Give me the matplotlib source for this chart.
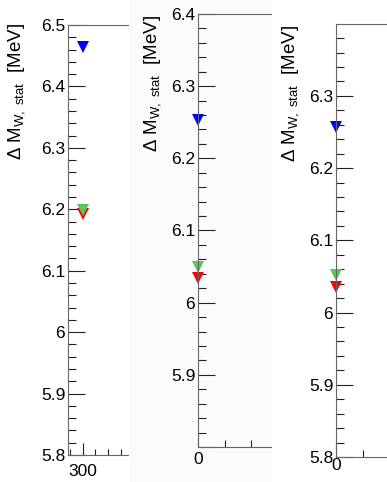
import numpy as np
import matplotlib
matplotlib.use("Agg")
import matplotlib.pyplot as plt
from matplotlib.ticker import MultipleLocator, FuncFormatter

plt.rcParams['font.family'] = ['Liberation Sans', 'DejaVu Sans']
plt.rcParams['mathtext.fontset'] = 'custom'
plt.rcParams['mathtext.rm'] = 'Liberation Sans'
plt.rcParams['mathtext.it'] = 'Liberation Sans:italic'

# stat. uncertainty on M_W for the three scan configurations
panel_x = [300, 0, 0]
blue_vals = [6.465, 6.253, 6.257]
green_vals = [6.199, 6.050, 6.052]
red_vals = [6.192, 6.034, 6.036]

y_ranges = [(5.8, 6.5), (5.8, 6.4), (5.8, 6.3995)]
y_labeled = [[5.8, 5.9, 6.0, 6.1, 6.2, 6.3, 6.4, 6.5],
             [5.9, 6.0, 6.1, 6.2, 6.3, 6.4],
             [5.8, 5.9, 6.0, 6.1, 6.2, 6.3]]
x_ranges = [(277, 592), (0, 150), (0, 148)]

ylabel = u'\u0394 M$_{\\mathrm{W,\\ stat}}$  [MeV]'

W, H = 387, 482
fig = plt.figure(figsize=(W / 100, H / 100), dpi=100)
fig.patch.set_facecolor('white')


def px_rect(l, t, r, b):
    return [l / W, 1 - b / H, (r - l) / W, (b - t) / H]


def make_pad(l, r, color, z):
    pad = fig.add_axes(px_rect(l, 0, r, H), zorder=z)
    pad.set_facecolor(color)
    pad.set_xticks([])
    pad.set_yticks([])
    for s in pad.spines.values():
        s.set_visible(False)
    return pad


def style_axis(ax, i, xpad, xmaj, xmin):
    ax.set_facecolor('none')
    ax.set_ylim(*y_ranges[i])
    ax.set_xlim(*x_ranges[i])
    ax.yaxis.set_major_locator(MultipleLocator(0.1))
    ax.yaxis.set_minor_locator(MultipleLocator(0.02))
    labs = y_labeled[i]
    ax.yaxis.set_major_formatter(FuncFormatter(
        lambda v, p: f'{v:g}' if any(abs(v - l) < 1e-6 for l in labs) else ''))
    ax.xaxis.set_major_locator(MultipleLocator(100))
    ax.xaxis.set_minor_locator(MultipleLocator(20))
    x0 = panel_x[i]
    ax.xaxis.set_major_formatter(FuncFormatter(
        lambda v, p: f'{v:g}' if abs(v - x0) < 1e-6 else ''))
    ax.tick_params(axis='y', which='major', direction='in', length=12.2, width=0.8,
                   color='#222222', labelsize=12.5, pad=2)
    ax.tick_params(axis='y', which='minor', direction='in', length=5.8, width=0.8,
                   color='#222222')
    ax.tick_params(axis='x', which='major', direction='in', length=xmaj, width=0.8,
                   color='#222222', labelsize=12.5, pad=xpad)
    ax.tick_params(axis='x', which='minor', direction='in', length=xmin, width=0.8,
                   color='#222222')
    for s in ax.spines.values():
        s.set_color('#666666')
        s.set_linewidth(0.8)


def draw_points(ax, i):
    ax.plot([panel_x[i]], [red_vals[i]], 'v', color='#ff0000', ms=8.6, mew=0, clip_on=False)
    ax.plot([panel_x[i]], [green_vals[i]], 'v', color='#55c855', ms=8.6, mew=0, clip_on=False)
    ax.plot([panel_x[i]], [blue_vals[i]], 'v', color='#0000ff', ms=8.6, mew=0, clip_on=False)


# left panel
ax1 = fig.add_axes(px_rect(68, 25, 268, 455), zorder=1)
style_axis(ax1, 0, 6.5, 8.6, 4.3)
draw_points(ax1, 0)
ax1.text(17 / W, 1 - 23 / H, ylabel, transform=fig.transFigure, rotation=90,
         ha='center', va='top', fontsize=13.5)

# middle panel
make_pad(129, 272, '#fbfbfb', 2)
ax2 = fig.add_axes(px_rect(198, 14, 398, 447), zorder=3)
style_axis(ax2, 1, 3.6, 8.6, 5.0)
draw_points(ax2, 1)
ax2.text(153 / W, 1 - 15 / H, ylabel, transform=fig.transFigure, rotation=90,
         ha='center', va='top', fontsize=13.5)

# right panel
make_pad(272, W, 'white', 4)
ax3 = fig.add_axes(px_rect(336, 24, 536, 457), zorder=5)
style_axis(ax3, 2, 0.7, 8.6, 5.0)
draw_points(ax3, 2)
ax3.text(291 / W, 1 - 25 / H, ylabel, transform=fig.transFigure, rotation=90,
         ha='center', va='top', fontsize=13.5)

fig.savefig('out.png', dpi=100)
